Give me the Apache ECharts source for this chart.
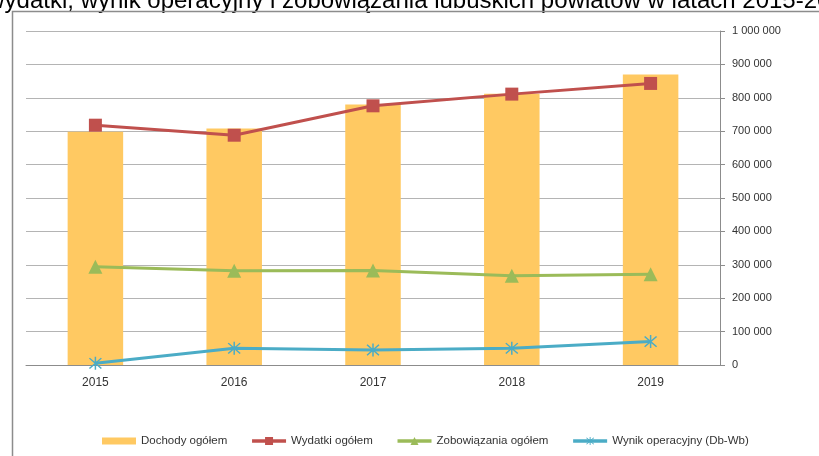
<!DOCTYPE html>
<html>
<head>
<meta charset="utf-8">
<script src="https://cdn.jsdelivr.net/npm/echarts@6/dist/echarts.min.js"></script>
<style>
  html, body { margin: 0; padding: 0; background: #fff; }
  #chart { width: 819px; height: 456px; }
</style>
</head>
<body>
<div id="chart"></div>
<script>
const years = ["2015", "2016", "2017", "2018", "2019"]
const dochody = [698000, 708000, 780000, 812000, 870000]
const wydatki = [718000, 688000, 776000, 811000, 843000]
const zobowiazania = [294000, 282000, 283000, 267000, 272000]
const wynik = [5000, 50000, 45000, 50000, 70000]
const seriesNames = ["Dochody ogółem", "Wydatki ogółem", "Zobowiązania ogółem", "Wynik operacyjny (Db-Wb)"]
const titleText = "Dochody, wydatki, wynik operacyjny i zobowiązania lubuskich powiatów w latach 2015-2019"

// gwiazdka jak w Excelu (pionowa kreska + X)
const starPath = "path://M9,0 L11,0 L11,20 L9,20 Z M2.7,1.3 L18.7,17.3 L17.3,18.7 L1.3,2.7 Z M17.3,1.3 L18.7,2.7 L2.7,18.7 L1.3,17.3 Z"
// płaski prostokąt do legendy słupków
const barIcon = "path://M0,0 L34,0 L34,7 L0,7 Z"

const fmt = (v) => String(v).replace(/\B(?=(\d{3})+(?!\d))/g, " ")

const myChart = echarts.init(document.getElementById("chart"))
myChart.setOption({
  backgroundColor: "#fff",
  animation: false,
  textStyle: { fontFamily: "Liberation Sans, Arial, sans-serif" },
  graphic: [
    {
      type: "text",
      left: -119,
      top: -11,
      style: { text: titleText, font: "24px Liberation Sans, Arial, sans-serif", fill: "#000" }
    },
    {
      type: "rect",
      shape: { x: 12.5, y: 11.5, width: 900, height: 500 },
      style: { fill: "none", stroke: "#8c8c8c", lineWidth: 1.5 }
    }
  ],
  grid: { left: 26, right: 99, top: 31, bottom: 91 },
  legend: {
    left: 97,
    top: 430,
    itemWidth: 34,
    itemHeight: 10,
    itemGap: 23,
    lineStyle: { width: 3.5 },
    textStyle: { fontSize: 11.5, color: "#333" },
    data: [
      { name: seriesNames[0], icon: barIcon },
      seriesNames[1], seriesNames[2], seriesNames[3]
    ]
  },
  xAxis: {
    type: "category",
    data: years,
    axisLine: { lineStyle: { color: "#8c8c8c" } },
    axisTick: { length: 5, lineStyle: { color: "#8c8c8c" } },
    axisLabel: { fontSize: 12, color: "#333", margin: 12 }
  },
  yAxis: {
    type: "value",
    position: "right",
    min: 0,
    max: 1000000,
    interval: 100000,
    axisLine: { show: true, lineStyle: { color: "#8c8c8c" } },
    axisTick: { show: true, length: 5, lineStyle: { color: "#8c8c8c" } },
    axisLabel: { fontSize: 11, color: "#333", margin: 12, formatter: fmt },
    splitLine: { lineStyle: { color: "#b4b4b4" } }
  },
  series: [
    {
      name: seriesNames[0],
      type: "bar",
      data: dochody,
      barWidth: "40%",
      itemStyle: { color: "#FFC962" }
    },
    {
      name: seriesNames[1],
      type: "line",
      data: wydatki,
      symbol: "rect",
      symbolSize: 13,
      lineStyle: { color: "#C0504D", width: 3 },
      itemStyle: { color: "#C0504D" }
    },
    {
      name: seriesNames[2],
      type: "line",
      data: zobowiazania,
      symbol: "triangle",
      symbolSize: 14,
      lineStyle: { color: "#9BBB59", width: 3 },
      itemStyle: { color: "#9BBB59" }
    },
    {
      name: seriesNames[3],
      type: "line",
      data: wynik,
      symbol: starPath,
      symbolSize: 13,
      lineStyle: { color: "#4BACC6", width: 3 },
      itemStyle: { color: "#4BACC6" }
    }
  ]
})
</script>
</body>
</html>
